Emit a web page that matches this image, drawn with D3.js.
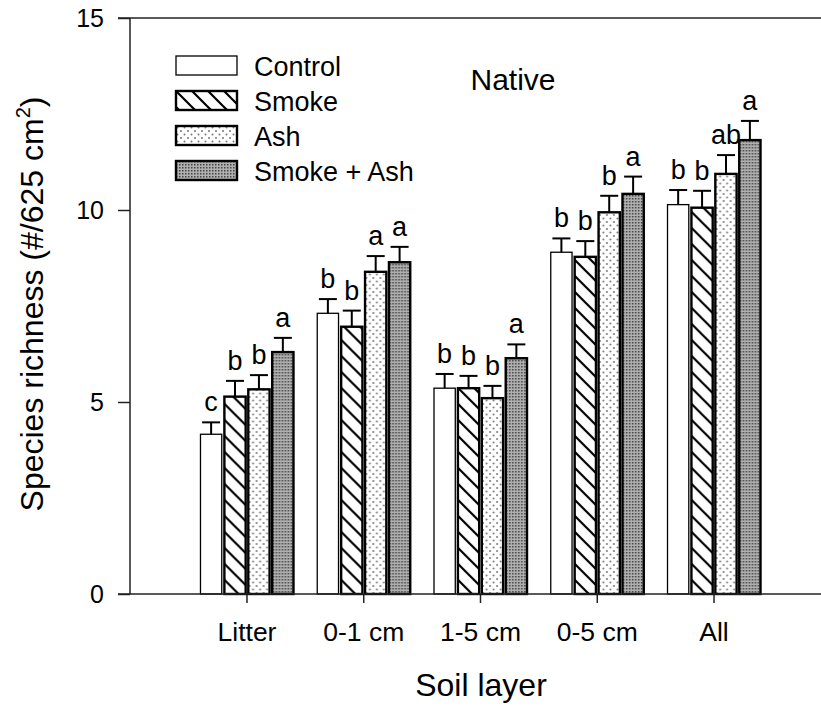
<!DOCTYPE html>
<html>
<head>
<meta charset="utf-8">
<script src="https://cdn.jsdelivr.net/npm/d3@7"></script>
<style>
  body { margin: 0; background: #fff; }
  text { font-family: Arial, "Liberation Sans", sans-serif; fill: #000; }
</style>
</head>
<body>
<svg id="chart" width="821" height="709"></svg>
<script>
// soil layers and treatments
var layers = ['Litter', '0-1 cm', '1-5 cm', '0-5 cm', 'All'];
var treatments = ['Control', 'Smoke', 'Ash', 'Smoke + Ash'];

// mean species richness per layer, one array per treatment
var controlMeans = [4.16, 7.31, 5.36, 8.90, 10.14];
var smokeMeans   = [5.14, 6.96, 5.36, 8.78, 10.06];
var ashMeans     = [5.33, 8.39, 5.10, 9.94, 10.94];
var smokeAshMeans = [6.30, 8.64, 6.14, 10.42, 11.82];

// standard errors
var controlSE  = [0.31, 0.37, 0.37, 0.36, 0.38];
var smokeSE    = [0.41, 0.42, 0.32, 0.41, 0.44];
var ashSE      = [0.37, 0.41, 0.32, 0.43, 0.49];
var smokeAshSE = [0.37, 0.40, 0.36, 0.45, 0.50];

// significance letters
var controlLetters  = ['c', 'b', 'b', 'b', 'b'];
var smokeLetters    = ['b', 'b', 'b', 'b', 'b'];
var ashLetters      = ['b', 'a', 'b', 'b', 'ab'];
var smokeAshLetters = ['a', 'a', 'a', 'a', 'a'];

var yTicks = [0, 5, 10, 15];

var means = [controlMeans, smokeMeans, ashMeans, smokeAshMeans];
var ses = [controlSE, smokeSE, ashSE, smokeAshSE];
var letters = [controlLetters, smokeLetters, ashLetters, smokeAshLetters];
var fills = ['#fff', 'url(#hatch)', 'url(#dots)', 'url(#dense)'];
var strokeW = [1.3, 2.4, 2.4, 2.4];

var svg = d3.select('#chart');

// patterns
var defs = svg.append('defs');
var hatch = defs.append('pattern').attr('id', 'hatch')
  .attr('patternUnits', 'userSpaceOnUse').attr('width', 16).attr('height', 16);
hatch.append('rect').attr('width', 16).attr('height', 16).attr('fill', '#fff');
hatch.append('path').attr('d', 'M0,0L16,16M-8,8L8,24M8,-8L24,8')
  .attr('stroke', '#000').attr('stroke-width', 2.2);

var dots = defs.append('pattern').attr('id', 'dots')
  .attr('patternUnits', 'userSpaceOnUse').attr('width', 7).attr('height', 7);
dots.append('rect').attr('width', 7).attr('height', 7).attr('fill', '#fff');
dots.append('circle').attr('cx', 1.5).attr('cy', 1.5).attr('r', 1).attr('fill', '#777');
dots.append('circle').attr('cx', 5).attr('cy', 5).attr('r', 1).attr('fill', '#777');

var dense = defs.append('pattern').attr('id', 'dense')
  .attr('patternUnits', 'userSpaceOnUse').attr('width', 3).attr('height', 3);
dense.append('rect').attr('width', 3).attr('height', 3).attr('fill', '#b0b0b0');
dense.append('rect').attr('width', 1.5).attr('height', 1.5).attr('fill', '#444');

// scales
var y = d3.scaleLinear().domain([0, 15]).range([594, 18]);
var x = d3.scaleBand().domain(layers).range([188.6, 772.4]);
var inner = d3.scaleBand().domain(treatments)
  .range([x.bandwidth() / 2 - 46.5, x.bandwidth() / 2 + 46.5]).paddingInner(0.11);

// axes
var yAxis = svg.append('g').attr('transform', 'translate(130,0)')
  .call(d3.axisLeft(y).tickValues(yTicks).tickSize(12).tickSizeOuter(0).tickPadding(14));
yAxis.select('.domain').remove();
yAxis.selectAll('line').attr('stroke', '#222').attr('stroke-width', 1.5);
yAxis.selectAll('text').style('font-size', '25px');

var xAxis = svg.append('g').attr('transform', 'translate(0,594)')
  .call(d3.axisBottom(x).tickSize(9).tickSizeOuter(0).tickPadding(19));
xAxis.select('.domain').remove();
xAxis.selectAll('line').attr('stroke', '#222').attr('stroke-width', 1.5);
xAxis.selectAll('text').style('font-size', '26.5px');

// bars
var groups = svg.selectAll('.layer')
  .data(layers).enter().append('g')
  .attr('class', 'layer')
  .attr('transform', function(d) { return 'translate(' + x(d) + ',0)'; });

groups.selectAll('rect')
  .data(function(d, i) {
    return treatments.map(function(t, j) {
      return { t: t, j: j, v: means[j][i], se: ses[j][i], l: letters[j][i] };
    });
  })
  .enter().append('rect')
  .attr('x', function(d) { return inner(d.t); })
  .attr('width', inner.bandwidth())
  .attr('y', function(d) { return y(d.v); })
  .attr('height', function(d) { return y(0) - y(d.v); })
  .attr('fill', function(d) { return fills[d.j]; })
  .attr('stroke', '#000')
  .attr('stroke-width', function(d) { return strokeW[d.j]; });

// error bars and letters
groups.each(function(layer, i) {
  var g = d3.select(this);
  treatments.forEach(function(t, j) {
    var cx = inner(t) + inner.bandwidth() / 2;
    var top = y(means[j][i] + ses[j][i]);
    g.append('line').attr('x1', cx).attr('x2', cx)
      .attr('y1', y(means[j][i])).attr('y2', top)
      .attr('stroke', '#000').attr('stroke-width', 2);
    g.append('line').attr('x1', cx - 9).attr('x2', cx + 9)
      .attr('y1', top).attr('y2', top)
      .attr('stroke', '#000').attr('stroke-width', 2);
    g.append('text').attr('x', cx).attr('y', top - 11)
      .attr('text-anchor', 'middle').style('font-size', '27px')
      .text(letters[j][i]);
  });
});

// axis lines
svg.append('line').attr('x1', 130).attr('x2', 130).attr('y1', 18).attr('y2', 594)
  .attr('stroke', '#222').attr('stroke-width', 1.5);
svg.append('line').attr('x1', 118).attr('x2', 821).attr('y1', 594).attr('y2', 594)
  .attr('stroke', '#222').attr('stroke-width', 1.5);
svg.append('line').attr('x1', 118).attr('x2', 821).attr('y1', 18).attr('y2', 18)
  .attr('stroke', '#222').attr('stroke-width', 1.5);

// legend
var legend = svg.selectAll('.legendEntry')
  .data(treatments).enter().append('g')
  .attr('class', 'legendEntry')
  .attr('transform', function(d, i) { return 'translate(176,' + (56 + i * 35) + ')'; });
legend.append('rect')
  .attr('width', 61).attr('height', 19)
  .attr('fill', function(d, i) { return fills[i]; })
  .attr('stroke', '#000')
  .attr('stroke-width', function(d, i) { return strokeW[i]; });
legend.append('text')
  .attr('x', 78).attr('y', 19.5)
  .style('font-size', '27px')
  .text(function(d) { return d; });

// titles
svg.append('text').attr('x', 513).attr('y', 90)
  .attr('text-anchor', 'middle').style('font-size', '30px').text('Native');

svg.append('text').attr('x', 481).attr('y', 696)
  .attr('text-anchor', 'middle').style('font-size', '32px').text('Soil layer');

var yt = svg.append('text')
  .attr('transform', 'translate(43,304) rotate(-90)')
  .attr('text-anchor', 'middle').style('font-size', '32px');
yt.append('tspan').text('Species richness (#/625 cm');
yt.append('tspan').attr('dy', -13).style('font-size', '20px').text('2');
yt.append('tspan').attr('dy', 13).text(')');
</script>
</body>
</html>
